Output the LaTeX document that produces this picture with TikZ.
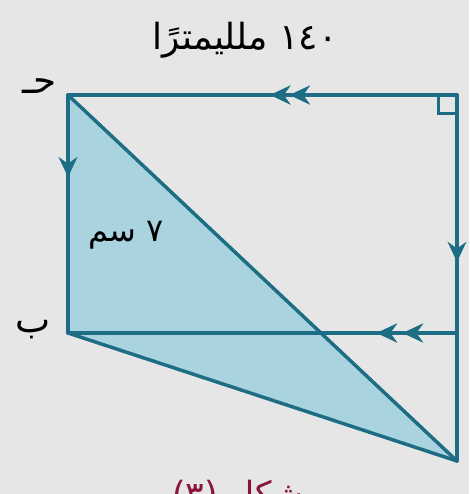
\documentclass[tikz,border=0pt]{standalone}
\usepackage{fontspec}
\newfontfamily\arabicfont[Script=Arabic]{DejaVu Sans}
\TeXXeTstate=1
\usetikzlibrary{arrows.meta,decorations.markings}
\definecolor{edgec}{HTML}{1D6E85}
\definecolor{fillc}{HTML}{A9D3DE}
\definecolor{bgc}{HTML}{E6E6E6}
\definecolor{capc}{HTML}{8B1538}
\tikzset{
  edge/.style={draw=edgec, line width=2.6pt, line cap=round, line join=round},
  tipmark/.style={postaction={decorate}, decoration={markings,
      mark=at position #1 with {\arrow{Stealth[length=15pt,width=14pt,inset=5pt]}}}},
  lbl/.style={text=black, font=\arabicfont\fontsize{#1}{#1}\selectfont, inner sep=0pt}
}
\begin{document}
\begin{tikzpicture}[x=0.75pt,y=-0.75pt]
\fill[bgc] (0,0) rectangle (469,494);
\useasboundingbox (0,0) rectangle (469,494);
\coordinate (A) at (68,95);
\coordinate (TR) at (457,95);
\coordinate (B) at (68,333);
\coordinate (R) at (457,333);
\coordinate (C) at (457,461);
\fill[fillc] (A) -- (B) -- (C) -- cycle;
\draw[edge, tipmark=0.43, tipmark=0.48] (TR) -- (A);
\draw[edge, tipmark=0.345] (A) -- (B);
\draw[edge, tipmark=0.456] (TR) -- (C);
\draw[edge, tipmark=0.139, tipmark=0.206] (R) -- (B);
\draw[edge] (A) -- (C);
\draw[edge] (B) -- (C);
\draw[draw=edgec, line width=1.8pt] ([xshift=-14pt]TR) -- ++(0,-14pt) -- ++(14pt,0);
\node[lbl=27pt] (title) at (245,40) {\beginR\beginL ١٤٠\endL{} ملليمترًا\endR};
\node[lbl=28pt] (jim) at (40,86) {\beginR حـ\endR};
\node[lbl=28pt] (ba) at (33,330) {\beginR ب\endR};
\node[lbl=24pt] (len) at (126,235) {\beginR ٧ سم\endR};
\node[lbl=26pt, text=capc] (cap) at (238,496) {\beginR شكل \beginL(٣)\endL\endR};
\end{tikzpicture}
\end{document}
